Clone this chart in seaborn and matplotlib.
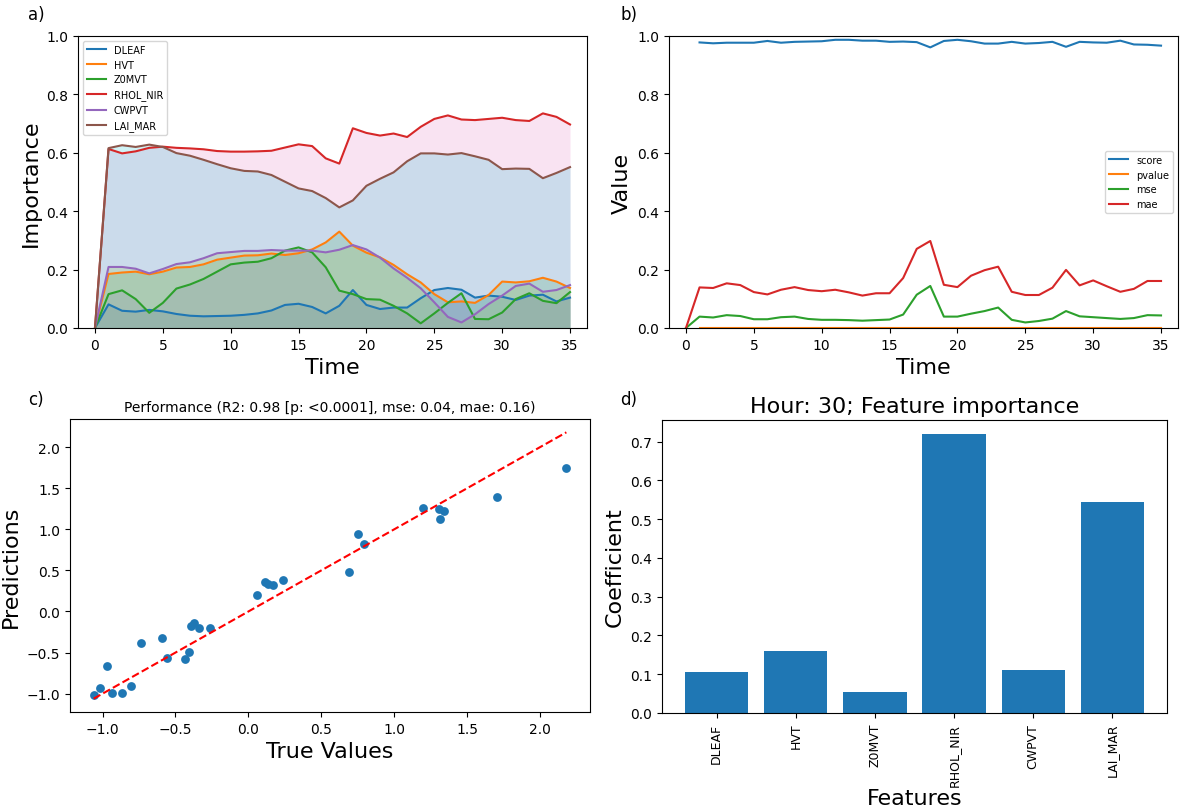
import numpy as np
import pandas as pd
import matplotlib
matplotlib.use("Agg")
import matplotlib.pyplot as plt
import seaborn as sns

# ---- data -------------------------------------------------------------
hours = list(range(36))
features = ["DLEAF", "HVT", "Z0MVT", "RHOL_NIR", "CWPVT", "LAI_MAR"]

dleaf = [0.0, 0.081, 0.059, 0.056, 0.062, 0.057, 0.048, 0.042, 0.040, 0.041,
         0.042, 0.045, 0.050, 0.060, 0.079, 0.083, 0.072, 0.050, 0.076, 0.130,
         0.079, 0.065, 0.070, 0.070, 0.102, 0.130, 0.137, 0.131, 0.104, 0.111,
         0.107, 0.096, 0.111, 0.114, 0.091, 0.104]
hvt = [0.0, 0.185, 0.190, 0.193, 0.184, 0.193, 0.207, 0.209, 0.218, 0.234,
       0.241, 0.248, 0.249, 0.255, 0.250, 0.256, 0.269, 0.293, 0.330, 0.282,
       0.258, 0.242, 0.216, 0.184, 0.156, 0.116, 0.088, 0.091, 0.086, 0.113,
       0.159, 0.156, 0.160, 0.172, 0.159, 0.137]
z0mvt = [0.0, 0.116, 0.129, 0.099, 0.052, 0.086, 0.135, 0.149, 0.168, 0.193,
         0.218, 0.224, 0.227, 0.239, 0.265, 0.276, 0.259, 0.208, 0.128, 0.116,
         0.099, 0.097, 0.076, 0.050, 0.016, 0.050, 0.086, 0.119, 0.031, 0.030,
         0.053, 0.099, 0.119, 0.093, 0.085, 0.123]
rhol_nir = [0.0, 0.613, 0.598, 0.605, 0.617, 0.621, 0.617, 0.615, 0.612, 0.606,
            0.604, 0.604, 0.605, 0.607, 0.618, 0.629, 0.623, 0.581, 0.563, 0.684,
            0.668, 0.659, 0.666, 0.654, 0.689, 0.716, 0.728, 0.714, 0.712, 0.716,
            0.720, 0.712, 0.709, 0.735, 0.723, 0.697]
cwpvt = [0.0, 0.209, 0.209, 0.203, 0.187, 0.202, 0.219, 0.225, 0.239, 0.256,
         0.260, 0.264, 0.264, 0.267, 0.265, 0.265, 0.265, 0.259, 0.268, 0.284,
         0.269, 0.241, 0.204, 0.172, 0.136, 0.088, 0.038, 0.019, 0.047, 0.082,
         0.111, 0.144, 0.152, 0.124, 0.130, 0.147]
lai_mar = [0.0, 0.616, 0.626, 0.620, 0.628, 0.620, 0.599, 0.590, 0.576, 0.561,
           0.547, 0.538, 0.536, 0.524, 0.501, 0.478, 0.469, 0.445, 0.413, 0.437,
           0.487, 0.511, 0.533, 0.571, 0.598, 0.598, 0.594, 0.599, 0.588, 0.576,
           0.544, 0.546, 0.545, 0.513, 0.531, 0.551]

nan = np.nan
score = [nan, 0.978, 0.975, 0.977, 0.977, 0.977, 0.983, 0.977, 0.980, 0.981,
         0.982, 0.987, 0.987, 0.984, 0.984, 0.980, 0.981, 0.979, 0.961, 0.983,
         0.987, 0.982, 0.974, 0.974, 0.980, 0.974, 0.976, 0.980, 0.963, 0.980,
         0.978, 0.977, 0.984, 0.971, 0.970, 0.967]
pvalue = [nan] + [0.0] * 35
mse = [0.0, 0.039, 0.036, 0.044, 0.041, 0.030, 0.030, 0.037, 0.039, 0.031,
       0.028, 0.028, 0.027, 0.025, 0.027, 0.029, 0.046, 0.114, 0.144, 0.039,
       0.039, 0.049, 0.058, 0.070, 0.028, 0.019, 0.024, 0.032, 0.058, 0.040,
       0.037, 0.034, 0.031, 0.034, 0.044, 0.043]
mae = [0.0, 0.139, 0.137, 0.153, 0.147, 0.123, 0.115, 0.131, 0.140, 0.130,
       0.126, 0.131, 0.122, 0.111, 0.119, 0.119, 0.171, 0.271, 0.298, 0.148,
       0.140, 0.179, 0.198, 0.210, 0.124, 0.113, 0.113, 0.138, 0.199, 0.146,
       0.163, 0.143, 0.124, 0.134, 0.161, 0.161]

true_values = [-1.061, -1.018, -0.970, -0.932, -0.866, -0.802, -0.736, -0.591,
               -0.561, -0.436, -0.407, -0.393, -0.373, -0.336, -0.261, 0.061,
               0.114, 0.132, 0.170, 0.239, 0.688, 0.750, 0.791, 1.195, 1.307,
               1.343, 1.316, 1.704, 2.179]
predictions = [-1.021, -0.930, -0.663, -0.996, -0.988, -0.910, -0.387, -0.325,
               -0.568, -0.584, -0.490, -0.181, -0.140, -0.198, -0.206, 0.206,
               0.358, 0.333, 0.317, 0.383, 0.486, 0.942, 0.819, 1.259, 1.247,
               1.226, 1.123, 1.395, 1.749]

hour = 30
coefficients = [dleaf[hour], hvt[hour], z0mvt[hour], rhol_nir[hour], cwpvt[hour], lai_mar[hour]]
perf_title = "Performance (R2: 0.98 [p: <0.0001], mse: 0.04, mae: 0.16)"

# ---- figure -----------------------------------------------------------
plt.rcParams["font.family"] = ["DejaVu Sans"]
tab10 = sns.color_palette("tab10")

fig = plt.figure(figsize=(11.84, 8.12), dpi=100)
W, H = 1184, 812


def axes_px(left, top, right, bottom):
    return fig.add_axes([left / W, 1 - bottom / H, (right - left) / W, (bottom - top) / H])


ax_a = axes_px(78, 37, 587, 329)
ax_b = axes_px(669, 37, 1178, 329)
ax_c = axes_px(70, 420, 590, 713)
ax_d = axes_px(662, 421, 1167, 714)

# a) feature importance over time
importance = pd.DataFrame(dict(zip(features, [dleaf, hvt, z0mvt, rhol_nir, cwpvt, lai_mar])))
importance["Time"] = hours
fill_colors = [tab10[0], tab10[2], tab10[4], tab10[6], tab10[8], tab10[9]]
for i, name in enumerate(features):
    sns.lineplot(data=importance, x="Time", y=name, ax=ax_a, color=tab10[i], label=name, linewidth=1.5)
    ax_a.fill_between(importance["Time"], importance[name], color=fill_colors[i], alpha=0.2, linewidth=0)
ax_a.set_ylim(0, 1.0)
ax_a.set_xlim(-1.25, 36.25)
ax_a.set_xticks(range(0, 36, 5))
ax_a.set_xlabel("Time", fontsize=16)
ax_a.set_ylabel("Importance", fontsize=16)
ax_a.legend(loc="upper left", fontsize=7)

# b) model performance over time
perf = pd.DataFrame({"Time": hours, "score": score, "pvalue": pvalue, "mse": mse, "mae": mae})
for i, name in enumerate(["score", "pvalue", "mse", "mae"]):
    sns.lineplot(data=perf, x="Time", y=name, ax=ax_b, color=tab10[i], label=name, linewidth=1.5)
ax_b.set_ylim(0, 1.0)
ax_b.set_xlim(-1.25, 36.25)
ax_b.set_xticks(range(0, 36, 5))
ax_b.set_xlabel("Time", fontsize=16)
ax_b.set_ylabel("Value", fontsize=16)
ax_b.legend(loc="center right", fontsize=7)

# c) predictions against true values
sns.scatterplot(x=true_values, y=predictions, ax=ax_c, color=tab10[0], s=40, linewidth=0)
lo, hi = min(true_values), max(true_values)
ax_c.plot([lo, hi], [lo, hi], "r--", linewidth=1.5)
ax_c.set_xlabel("True Values", fontsize=16)
ax_c.set_ylabel("Predictions", fontsize=16)
ax_c.set_title(perf_title, fontsize=10)

# d) coefficients at the chosen hour
sns.barplot(x=features, y=coefficients, ax=ax_d, color=tab10[0], saturation=1, width=0.8)
ax_d.set_xlim(-0.69, 5.69)
ax_d.tick_params(axis="x", labelrotation=90, labelsize=9)
ax_d.set_xlabel("Features", fontsize=16, labelpad=2)
ax_d.set_ylabel("Coefficient", fontsize=16)
ax_d.set_title(f"Hour: {hour}; Feature importance", fontsize=16)

for label, (x, y) in zip(["a)", "b)", "c)", "d)"], [(28, 15), (620, 15), (28, 400), (620, 400)]):
    fig.text(x / W, 1 - y / H, label, fontsize=12, va="center", ha="left")

fig.savefig("out.png", dpi=100)
